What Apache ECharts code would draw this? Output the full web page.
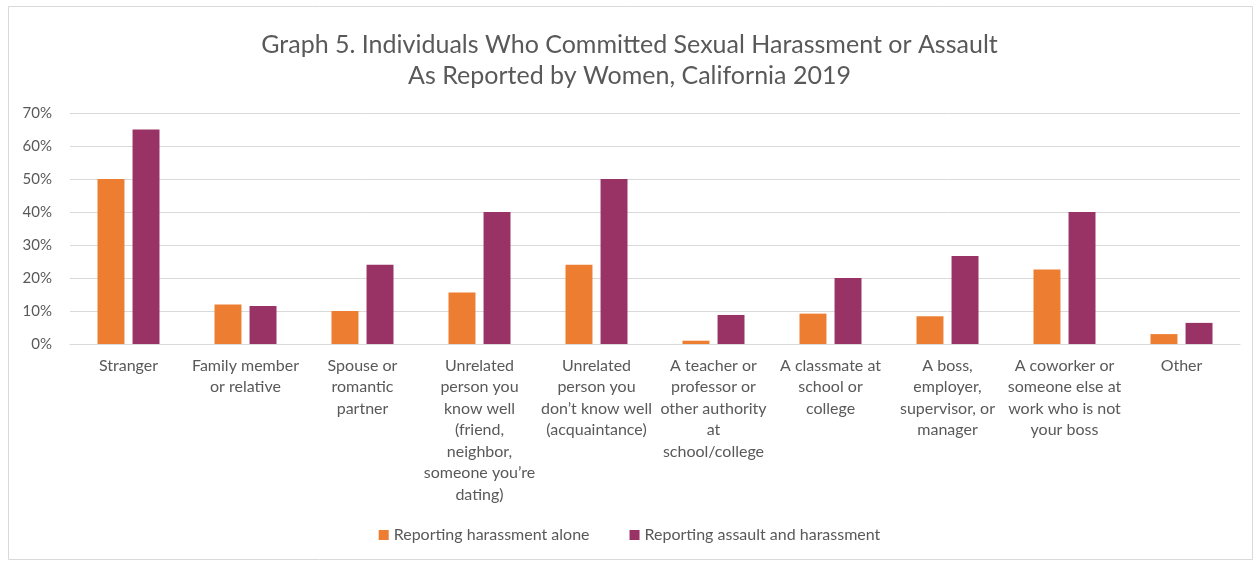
<!DOCTYPE html>
<html>
<head>
<meta charset="utf-8">
<script src="https://cdn.jsdelivr.net/npm/echarts@6/dist/echarts.min.js"></script>
<style>
  html, body { margin: 0; padding: 0; background: #fff; }
  #chart { width: 1259px; height: 561px; }
</style>
</head>
<body>
<div id="chart"></div>
<script>
// categories as they wrap in the original
const categories = [
    "Stranger",
    "Family member\nor relative",
    "Spouse or\nromantic\npartner",
    "Unrelated\nperson you\nknow well\n(friend,\nneighbor,\nsomeone you\u2019re\ndating)",
    "Unrelated\nperson you\ndon\u2019t know well\n(acquaintance)",
    "A teacher or\nprofessor or\nother authority\nat\nschool/college",
    "A classmate at\nschool or\ncollege",
    "A boss,\nemployer,\nsupervisor, or\nmanager",
    "A coworker or\nsomeone else at\nwork who is not\nyour boss",
    "Other"
];

// percentages
const harassmentAlone = [50, 12, 10, 15.6, 24, 1, 9.2, 8.4, 22.6, 3];
const assaultAndHarassment = [65, 11.5, 24, 40, 50, 8.8, 20, 26.7, 40, 6.4];

const yTicks = [0, 10, 20, 30, 40, 50, 60, 70];

const FONT = "Lato";
const TEXT = "#595959";

const chart = echarts.init(document.getElementById("chart"), null, { renderer: "canvas" });

chart.setOption({
    animation: false,
    backgroundColor: "#fff",
    textStyle: { fontFamily: FONT },
    title: {
        text: "Graph 5. Individuals Who Committed Sexual Harassment or Assault\nAs Reported by Women, California 2019",
        left: "center",
        top: 24,
        textStyle: {
            fontFamily: FONT,
            fontSize: 25,
            fontWeight: "normal",
            color: TEXT,
            lineHeight: 31
        }
    },
    graphic: [{
        type: "rect",
        shape: { x: 8.5, y: 6.5, width: 1244, height: 553 },
        style: { fill: "none", stroke: "#d9d9d9", lineWidth: 1 },
        silent: true
    }],
    legend: {
        top: 522,
        left: "center",
        itemWidth: 10,
        itemHeight: 10,
        itemGap: 40,
        icon: "rect",
        textStyle: { fontFamily: FONT, fontSize: 16, color: TEXT },
        data: ["Reporting harassment alone", "Reporting assault and harassment"]
    },
    grid: {
        left: 70,
        right: 19,
        top: 113,
        bottom: 217,
        containLabel: false
    },
    xAxis: {
        type: "category",
        data: categories,
        axisLine: { lineStyle: { color: "#d9d9d9" } },
        axisTick: { show: false },
        axisLabel: {
            interval: 0,
            margin: 11,
            fontFamily: FONT,
            fontSize: 16,
            lineHeight: 21.5,
            color: TEXT
        }
    },
    yAxis: {
        type: "value",
        min: 0,
        max: 70,
        interval: 10,
        axisLine: { show: false },
        axisTick: { show: false },
        splitLine: { lineStyle: { color: "#d9d9d9" } },
        axisLabel: {
            margin: 18,
            fontFamily: FONT,
            fontSize: 15,
            color: TEXT,
            formatter: v => (yTicks.includes(v) ? v + "%" : "")
        }
    },
    series: [
        {
            name: "Reporting harassment alone",
            type: "bar",
            data: harassmentAlone,
            barGap: "30%",
            barCategoryGap: "47%",
            itemStyle: { color: "#ED7D31" }
        },
        {
            name: "Reporting assault and harassment",
            type: "bar",
            data: assaultAndHarassment,
            barGap: "30%",
            barCategoryGap: "47%",
            itemStyle: { color: "#993366" }
        }
    ]
});
</script>
</body>
</html>
